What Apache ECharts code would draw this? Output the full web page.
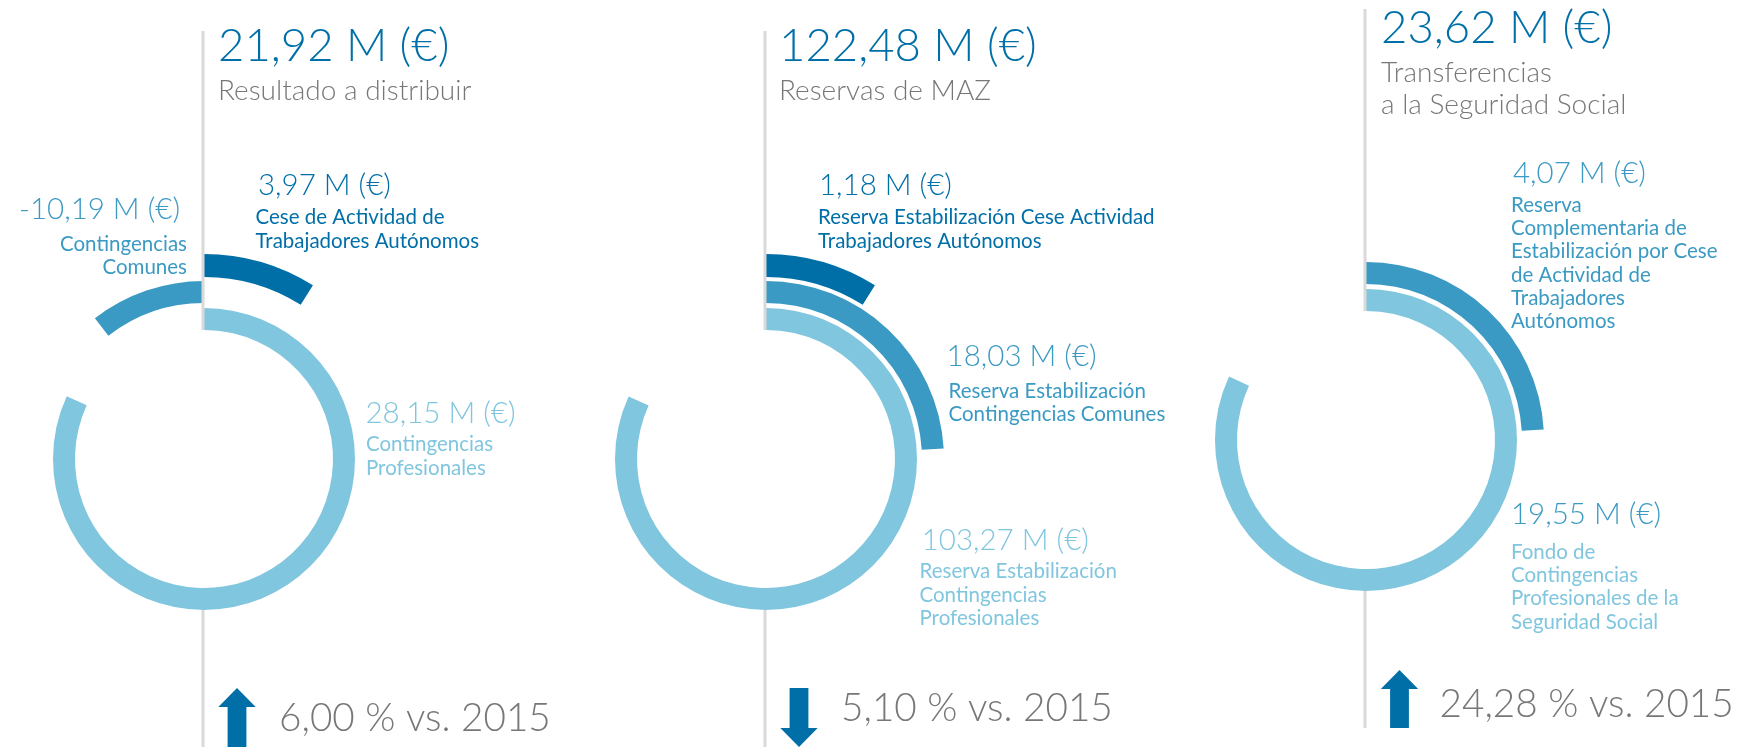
<!DOCTYPE html>
<html><head><meta charset="utf-8">
<script src="https://cdn.jsdelivr.net/npm/echarts@6/dist/echarts.min.js"></script>
<style>html,body{margin:0;padding:0;background:#fff}#c{width:1745px;height:747px}</style>
</head><body><div id="c"></div>
<script>
// ---------------- DATA ----------------
const totals = [21.92, 122.48, 23.62];
const totalTitles = ['Resultado a distribuir', 'Reservas de MAZ', 'Transferencias\na la Seguridad Social'];
const changePct = [6.00, -5.10, 24.28];
const changeYear = '2015';

// ring order: [inner light ring, middle ring, outer ring]
const chart1Names = ['Contingencias\nProfesionales', 'Contingencias\nComunes', 'Cese de Actividad de\nTrabajadores Autónomos'];
const chart1Values = [28.15, -10.19, 3.97];
const chart1ArcDeg = [294.6, -37.8, 32.1];   // arc sweep (negative = counter-clockwise)

const chart2Names = ['Reserva Estabilización\nContingencias\nProfesionales', 'Reserva Estabilización\nContingencias Comunes', 'Reserva Estabilización Cese Actividad\nTrabajadores Autónomos'];
const chart2Values = [103.27, 18.03, 1.18];
const chart2ArcDeg = [294.5, 86.6, 32.1];

const chart3Names = ['Fondo de\nContingencias\nProfesionales de la\nSeguridad Social', 'Reserva\nComplementaria de\nEstabilización por Cese\nde Actividad de\nTrabajadores\nAutónomos'];
const chart3Values = [19.55, 4.07];
const chart3ArcDeg = [294.9, 86.6];

// ---------------- STYLE / LAYOUT ----------------
const C_DARK = '#006fa8', C_MID = '#3b9ac3', C_LIGHT = '#80c6de', C_GRAY = '#777777', C_LINE = '#d9d9d9';
const ringColors = [C_LIGHT, C_MID, C_DARK];
const ringRadii = [[129, 151], [156, 178], [182, 205]];
const FONT = 'Lato, "Open Sans", sans-serif';
const VAL_SIZE = 29.5, SUB_SIZE = 20.5, SUB_LH = 23.3;

const layouts = [
  { cx: 204, cy: 459, lineTop: 31, lineEnd: 747,
    titleX: 218, titleY: 46.5, subY: 90.5,
    arrow: { x: 237, tipY: 688, endY: 760 }, chgX: 279, chgY: 719,
    labels: [ { vx: 365.5, vy: 413.7, sx: 366, sy: 444.7, align: 'left', vc: C_LIGHT },
              { vx: 180, vy: 209.8, sx: 187, sy: 244.2, align: 'right', vc: C_MID },
              { vx: 258, vy: 185.7, sx: 255.5, sy: 217.8, align: 'left', vc: C_DARK } ] },
  { cx: 766, cy: 459, lineTop: 31, lineEnd: 747,
    titleX: 779, titleY: 46.5, subY: 90.5,
    arrow: { x: 799, tipY: 747, topY: 688 }, chgX: 841, chgY: 709,
    labels: [ { vx: 921.7, vy: 540, sx: 919.5, sy: 571.7, align: 'left', vc: C_LIGHT },
              { vx: 946.6, vy: 356.7, sx: 948.5, sy: 391.3, align: 'left', vc: C_MID },
              { vx: 819, vy: 185.7, sx: 818, sy: 217.8, align: 'left', vc: C_DARK } ] },
  { cx: 1366, cy: 440, lineTop: 9, lineEnd: 728,
    titleX: 1381, titleY: 28.3, subY: 72.8,
    arrow: { x: 1399.5, tipY: 670, endY: 728 }, chgX: 1439.5, chgY: 704.5,
    labels: [ { vx: 1511, vy: 514.5, sx: 1511, sy: 552, align: 'left', vc: C_MID },
              { vx: 1513, vy: 173.3, sx: 1511, sy: 205.1, align: 'left', vc: C_MID } ] }
];

const charts = [
  { values: chart1Values, names: chart1Names, arcs: chart1ArcDeg },
  { values: chart2Values, names: chart2Names, arcs: chart2ArcDeg },
  { values: chart3Values, names: chart3Names, arcs: chart3ArcDeg }
];

function fmtM(v) { return v.toFixed(2).replace('.', ',') + ' M (€)'; }
function txt(x, midY, text, size, color, weight, align, lh) {
  lh = lh || Math.round(size * 1.2);
  return { type: 'text', z: 20, x: x, y: midY - lh / 2,
    style: { text: text, fill: color, font: weight + ' ' + size + 'px ' + FONT,
             textAlign: align || 'left', textVerticalAlign: 'top', lineHeight: lh } };
}

const series = [];
const graphic = [];
charts.forEach((ch, ci) => {
  const L = layouts[ci];
  ch.arcs.forEach((deg, ri) => {
    const a = Math.abs(deg);
    series.push({
      type: 'pie', center: [L.cx, L.cy], radius: ringRadii[ri], startAngle: 90,
      clockwise: deg >= 0, silent: true, animation: false,
      label: { show: false }, labelLine: { show: false }, emphasis: { disabled: true },
      data: [ { name: ch.names[ri], value: a, itemStyle: { color: ringColors[ri] } },
              { name: '', value: 360 - a, itemStyle: { color: 'rgba(0,0,0,0)' } } ]
    });
    const lb = L.labels[ri];
    graphic.push(txt(lb.vx, lb.vy, fmtM(ch.values[ri]), VAL_SIZE, lb.vc, 300, lb.align));
    graphic.push(txt(lb.sx, lb.sy, ch.names[ri], SUB_SIZE, ringColors[ri], 400, lb.align, SUB_LH));
  });
  // vertical guide line (above ring and below ring)
  graphic.push({ type: 'line', z: 15, shape: { x1: L.cx - 1, y1: L.lineTop, x2: L.cx - 1, y2: L.cy - ringRadii[0][0] }, style: { stroke: C_LINE, lineWidth: 3 } });
  graphic.push({ type: 'line', z: 15, shape: { x1: L.cx - 1, y1: L.cy + ringRadii[0][1], x2: L.cx - 1, y2: L.lineEnd }, style: { stroke: C_LINE, lineWidth: 3 } });
  // titles
  graphic.push(txt(L.titleX, L.titleY, fmtM(totals[ci]), 45.5, C_DARK, 300, 'left'));
  graphic.push(txt(L.titleX, L.subY, totalTitles[ci], 28, C_GRAY, 300, 'left', 32.4));
  // change arrow + text
  const up = changePct[ci] >= 0;
  const A = L.arrow, hw = 18.7, sw = 9.4, hh = 19;
  let pts;
  if (up) {
    pts = [[A.x, A.tipY], [A.x + hw, A.tipY + hh], [A.x + sw, A.tipY + hh], [A.x + sw, A.endY],
           [A.x - sw, A.endY], [A.x - sw, A.tipY + hh], [A.x - hw, A.tipY + hh]];
  } else {
    pts = [[A.x, A.tipY], [A.x + hw, A.tipY - hh], [A.x + sw, A.tipY - hh], [A.x + sw, A.topY],
           [A.x - sw, A.topY], [A.x - sw, A.tipY - hh], [A.x - hw, A.tipY - hh]];
  }
  graphic.push({ type: 'polygon', z: 20, shape: { points: pts }, style: { fill: C_DARK } });
  graphic.push(txt(L.chgX, L.chgY, Math.abs(changePct[ci]).toFixed(2).replace('.', ',') + ' % vs. ' + changeYear, 38.7, C_GRAY, 300, 'left'));
});

const chart = echarts.init(document.getElementById('c'), null, { renderer: 'canvas' });
chart.setOption({ backgroundColor: '#ffffff', animation: false, series: series, graphic: graphic });
</script>
</body></html>
